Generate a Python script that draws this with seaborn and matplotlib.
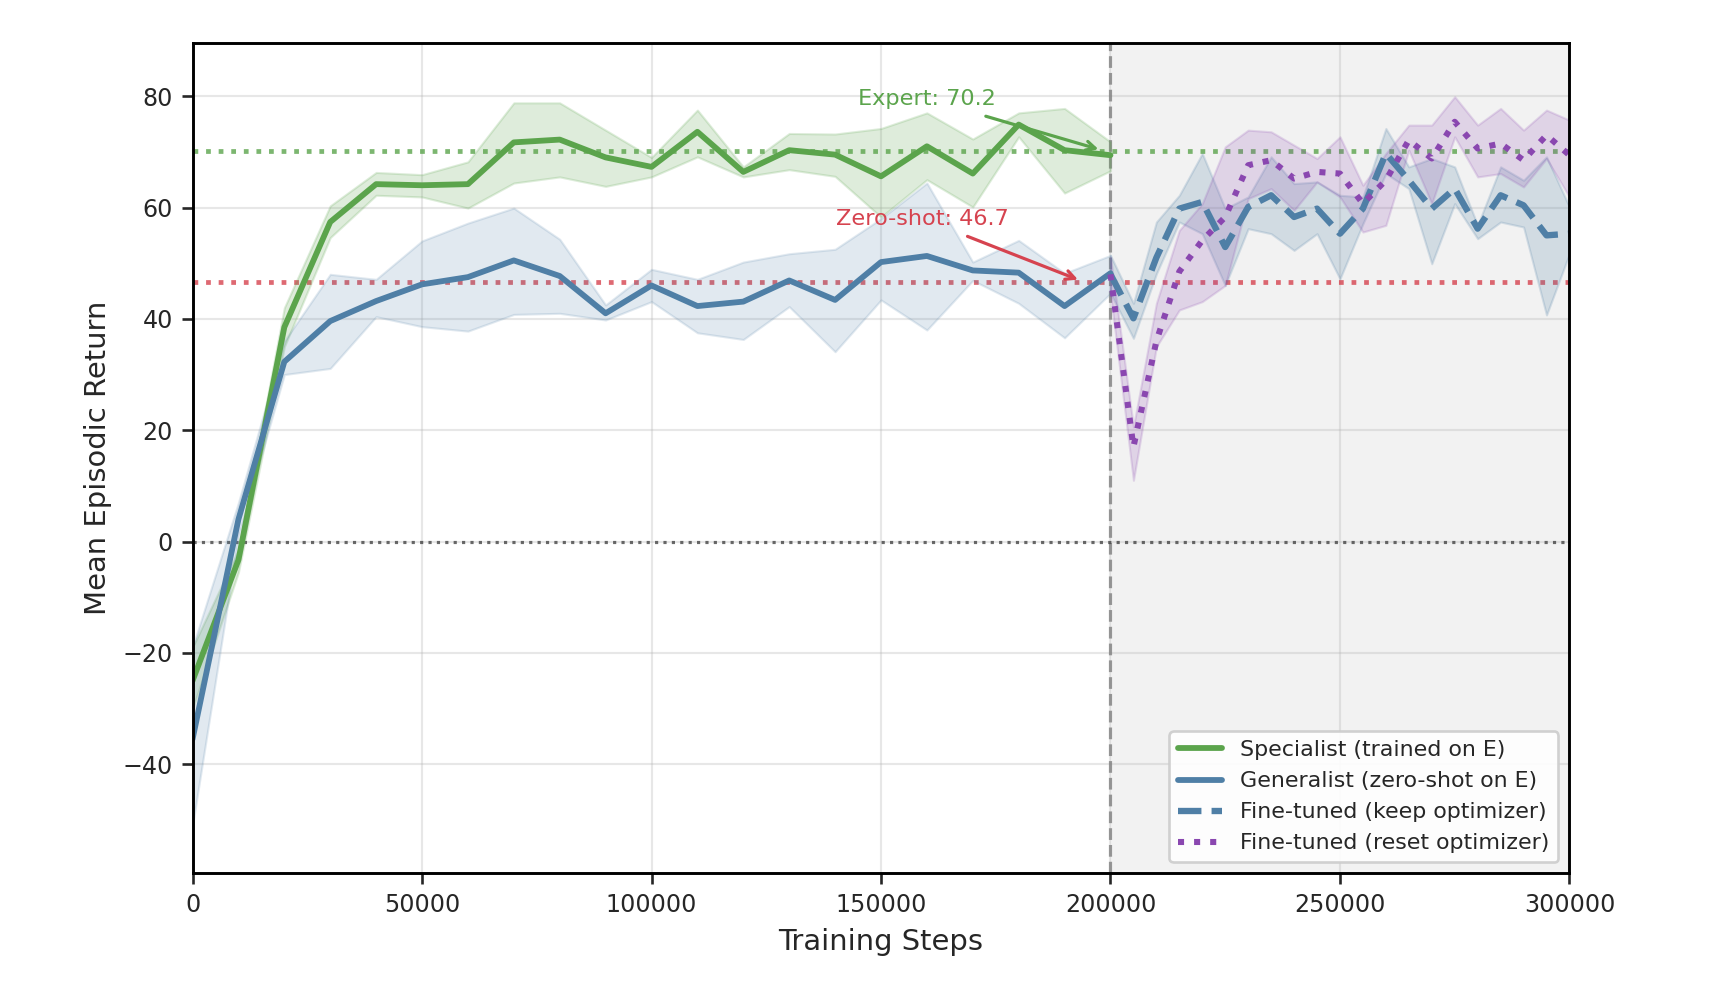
import numpy as np
import matplotlib
matplotlib.use("Agg")
import matplotlib.pyplot as plt
import seaborn as sns

# --- dados ---
steps_pre = list(range(0, 200001, 10000))
steps_ft = list(range(200000, 300001, 5000))

specialist_mean = [-25.0, -3.3, 38.5, 57.4, 64.2, 64.0, 64.2, 71.7, 72.2, 69.0, 67.3,
                   73.6, 66.4, 70.3, 69.5, 65.6, 71.0, 66.1, 74.9, 70.3, 69.4]
specialist_low = [-30.0, -5.5, 35.0, 54.6, 62.2, 61.9, 59.9, 64.4, 65.5, 63.8, 65.5,
                  69.1, 65.5, 66.8, 65.6, 58.3, 65.0, 60.1, 72.7, 62.6, 66.6]
specialist_high = [-19.0, -1.5, 42.0, 60.3, 66.3, 65.9, 68.2, 78.8, 78.8, 73.9, 69.0,
                   77.5, 67.3, 73.3, 73.2, 74.2, 77.0, 72.3, 77.0, 77.8, 71.8]

generalist_mean = [-35.5, 4.0, 32.3, 39.6, 43.2, 46.2, 47.5, 50.5, 47.7, 41.0, 46.0,
                   42.3, 43.1, 46.9, 43.4, 50.2, 51.3, 48.7, 48.3, 42.3, 48.2]
generalist_low = [-51.0, 1.0, 30.0, 31.1, 40.4, 38.6, 37.8, 40.8, 41.0, 39.8, 43.1,
                  37.5, 36.3, 42.2, 34.1, 43.4, 38.0, 46.9, 42.8, 36.6, 44.6]
generalist_high = [-19.0, 7.0, 36.0, 48.0, 47.1, 54.0, 57.2, 59.9, 54.3, 42.5, 48.9,
                   47.1, 50.2, 51.7, 52.5, 58.0, 64.4, 50.2, 54.1, 48.2, 51.4]

keep_mean = [48.0, 40.1, 51.0, 59.8, 61.0, 52.9, 60.1, 62.2, 58.3, 59.8, 55.3,
             59.8, 69.7, 64.9, 59.8, 63.4, 56.2, 62.2, 60.4, 55.0, 55.3]
keep_low = [44.6, 36.5, 48.1, 57.4, 55.3, 46.0, 56.2, 55.3, 52.3, 55.3, 47.2,
            57.1, 66.1, 63.4, 49.9, 60.7, 54.4, 57.4, 56.5, 40.7, 51.7]
keep_high = [51.4, 42.8, 57.4, 62.2, 69.7, 59.8, 61.9, 69.1, 64.3, 64.6, 62.2,
             61.9, 74.2, 67.3, 68.8, 67.3, 56.8, 67.3, 64.9, 69.1, 60.1]

reset_mean = [48.0, 17.0, 36.0, 48.5, 54.1, 58.3, 67.6, 68.5, 65.2, 66.4, 66.1,
              60.7, 64.9, 72.1, 68.8, 75.4, 70.6, 71.5, 68.5, 73.0, 69.4]
reset_low = [44.6, 11.0, 35.0, 41.6, 43.1, 46.0, 61.6, 63.4, 59.5, 64.6, 61.9,
             55.6, 56.8, 70.3, 60.7, 72.7, 65.5, 66.1, 63.7, 68.8, 61.9]
reset_high = [51.1, 20.6, 42.8, 55.9, 60.7, 70.9, 73.9, 73.6, 71.2, 68.8, 72.7,
              64.0, 69.7, 74.8, 74.8, 79.9, 74.8, 77.8, 73.9, 77.5, 75.7]

expert_level = 70.2
zeroshot_level = 46.7

# --- estilo ---
sns.set_style("ticks")
plt.rcParams['font.family'] = ['DejaVu Sans']

GREEN = '#5ba44c'
BLUE = '#4f7fa6'
PURPLE = '#8a47b0'
RED = '#d6434f'

fig = plt.figure(figsize=(1716 / 190, 989 / 190), dpi=190)
ax = fig.add_axes([0.1122, 0.1169, 0.8024, 0.8399])

ax.axvspan(200000, 300000, color='gray', alpha=0.1, lw=0, zorder=0)
ax.axvline(200000, color='gray', ls='--', lw=1.2, alpha=0.8, zorder=1)
ax.axhline(0, color='#444444', ls=':', lw=1.2, alpha=0.8, zorder=1)
ax.axhline(expert_level, color=GREEN, ls=':', lw=1.8, alpha=0.8, zorder=1)
ax.axhline(zeroshot_level, color=RED, ls=':', lw=1.8, alpha=0.8, zorder=1)

ax.fill_between(steps_pre, specialist_low, specialist_high, color=GREEN, alpha=0.2, lw=0.8)
ax.fill_between(steps_pre, generalist_low, generalist_high, color=BLUE, alpha=0.17, lw=0.8)
ax.fill_between(steps_ft, keep_low, keep_high, color=BLUE, alpha=0.2, lw=0.8)
ax.fill_between(steps_ft, reset_low, reset_high, color=PURPLE, alpha=0.18, lw=0.8)

sns.lineplot(x=steps_pre, y=specialist_mean, ax=ax, color=GREEN, lw=2.2,
             label='Specialist (trained on E)')
sns.lineplot(x=steps_pre, y=generalist_mean, ax=ax, color=BLUE, lw=2.2,
             label='Generalist (zero-shot on E)')
sns.lineplot(x=steps_ft, y=keep_mean, ax=ax, color=BLUE, lw=2.4, ls='--',
             label='Fine-tuned (keep optimizer)')
sns.lineplot(x=steps_ft, y=reset_mean, ax=ax, color=PURPLE, lw=2.3, ls=':',
             label='Fine-tuned (reset optimizer)')

ax.annotate(f'Expert: {expert_level}', xy=(198500, expert_level), xytext=(160000, 79.5),
            ha='center', va='center', color=GREEN, fontsize=8.5,
            arrowprops=dict(arrowstyle='->', color=GREEN, lw=1.2))
ax.annotate(f'Zero-shot: {zeroshot_level}', xy=(194000, zeroshot_level), xytext=(159000, 58),
            ha='center', va='center', color=RED, fontsize=8.5,
            arrowprops=dict(arrowstyle='->', color=RED, lw=1.2))

ax.set_xlim(0, 300000)
ax.set_ylim(-59.6, 89.6)
ax.set_xticks([0, 50000, 100000, 150000, 200000, 250000, 300000])
ax.set_yticks([-40, -20, 0, 20, 40, 60, 80])
ax.tick_params(labelsize=9, width=1, length=4)
ax.grid(True, color='#b0b0b0', alpha=0.3, lw=0.8)
for s in ax.spines.values():
    s.set_color('black')
    s.set_linewidth(1.1)

ax.set_xlabel('Training Steps', fontsize=11)
ax.set_ylabel('Mean Episodic Return', fontsize=11)
ax.legend(loc='lower right', fontsize=8.4, framealpha=0.9)

fig.savefig('out.png', dpi=190)
